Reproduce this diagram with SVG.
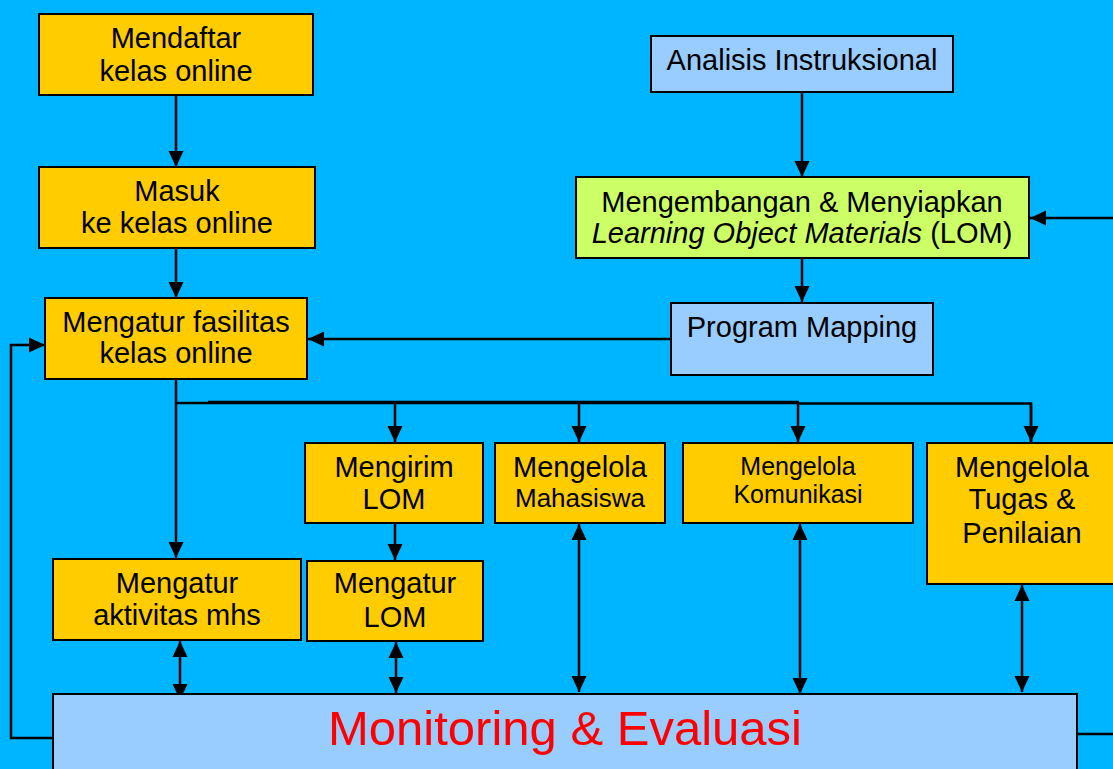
<svg xmlns="http://www.w3.org/2000/svg" width="1113" height="769" viewBox="0 0 1113 769">
<defs>
<style>
.bg{fill:#00B5FF}
.y{fill:#FFCC00;stroke:#000;stroke-width:2}
.g{fill:#CCFF66;stroke:#000;stroke-width:2}
.b{fill:#99CCFF;stroke:#000;stroke-width:2}
text{font-family:"Liberation Sans",Arial,sans-serif;font-size:29px;fill:#000;text-anchor:middle}
.s{font-size:26px}
.s24{font-size:25px}
.red{fill:#FF0000;font-size:49px}
.c{fill:none;stroke:#000;stroke-width:2.5}
.a{marker-end:url(#ah)}
.d{marker-end:url(#ah);marker-start:url(#ah)}
</style>
<marker id="ah" markerUnits="userSpaceOnUse" markerWidth="16" markerHeight="16" refX="16" refY="8" orient="auto-start-reverse" viewBox="0 0 16 16">
<path d="M0,0.5 L16,8 L0,15.5 z" fill="#000"/>
</marker>
</defs>
<rect class="bg" x="0" y="0" width="1113" height="769"/>

<g id="connectors">
<path class="c a" d="M176,95 V167"/>
<path class="c a" d="M176,248 V298"/>
<path class="c a" d="M802,92 V177"/>
<path class="c a" d="M802,258 V302"/>
<path class="c a" d="M1113,218 H1030"/>
<path class="c a" d="M671,339 H308"/>
<path class="c a" d="M53,738 H11 V345 H45"/>
<path class="c a" d="M176,379 V558"/>
<path class="c" d="M176,403 H208"/>
<path class="c" style="stroke-width:3.5" d="M208,402.5 H799"/>
<path class="c" d="M797,403.5 H1031 V442"/>
<path class="c a" d="M395,403 V442"/>
<path class="c a" d="M579,403 V442"/>
<path class="c a" d="M798,403 V442"/>
<path class="c a" d="M1031,404 V442"/>
<path class="c a" d="M395,523 V560"/>
<path class="c d" d="M180,641 V700"/>
<path class="c d" d="M396,642 V693"/>
<path class="c d" d="M579,524 V692"/>
<path class="c d" d="M800,524 V694"/>
<path class="c d" d="M1022,585 V692"/>
<path class="c" d="M1077,734 H1113"/>
</g>

<g id="mendaftar">
<rect class="y" x="39" y="14" width="274" height="81"/>
<text x="176" y="48">Mendaftar</text>
<text x="176" y="81">kelas online</text>
</g>
<g id="masuk">
<rect class="y" x="39" y="167" width="276" height="81"/>
<text x="177" y="201">Masuk</text>
<text x="177" y="233">ke kelas online</text>
</g>
<g id="fasilitas">
<rect class="y" x="45" y="298" width="262" height="81"/>
<text x="176" y="332">Mengatur fasilitas</text>
<text x="176" y="363">kelas online</text>
</g>
<g id="analisis">
<rect class="b" x="651" y="36" width="302" height="56"/>
<text x="802" y="70">Analisis Instruksional</text>
</g>
<g id="mengembangan">
<rect class="g" x="576" y="177" width="453" height="81"/>
<text x="802" y="212">Mengembangan &amp; Menyiapkan</text>
<text x="802" y="243"><tspan font-style="italic">Learning Object Materials</tspan> (LOM)</text>
</g>
<g id="program-mapping">
<rect class="b" x="671" y="303" width="262" height="72"/>
<text x="802" y="337">Program Mapping</text>
</g>
<g id="mengirim-lom">
<rect class="y" x="305" y="443" width="178" height="80"/>
<text x="394" y="477">Mengirim</text>
<text x="394" y="509">LOM</text>
</g>
<g id="mengelola-mahasiswa">
<rect class="y" x="495" y="443" width="170" height="80"/>
<text x="580" y="477">Mengelola</text>
<text class="s" x="580" y="507">Mahasiswa</text>
</g>
<g id="mengelola-komunikasi">
<rect class="y" x="683" y="443" width="230" height="80"/>
<text class="s24" x="798" y="475">Mengelola</text>
<text class="s24" x="798" y="503">Komunikasi</text>
</g>
<g id="mengelola-tugas">
<rect class="y" x="927" y="443" width="190" height="141"/>
<text x="1022" y="477">Mengelola</text>
<text x="1022" y="509">Tugas &amp;</text>
<text x="1022" y="543">Penilaian</text>
</g>
<g id="mengatur-aktivitas">
<rect class="y" x="53" y="559" width="248" height="81"/>
<text x="177" y="593">Mengatur</text>
<text x="177" y="625">aktivitas mhs</text>
</g>
<g id="mengatur-lom">
<rect class="y" x="307" y="561" width="176" height="80"/>
<text x="395" y="593">Mengatur</text>
<text x="395" y="627">LOM</text>
</g>
<g id="monitoring">
<rect class="b" x="53" y="694" width="1024" height="90"/>
<text class="red" x="565" y="745">Monitoring &amp; Evaluasi</text>
</g>
</svg>
